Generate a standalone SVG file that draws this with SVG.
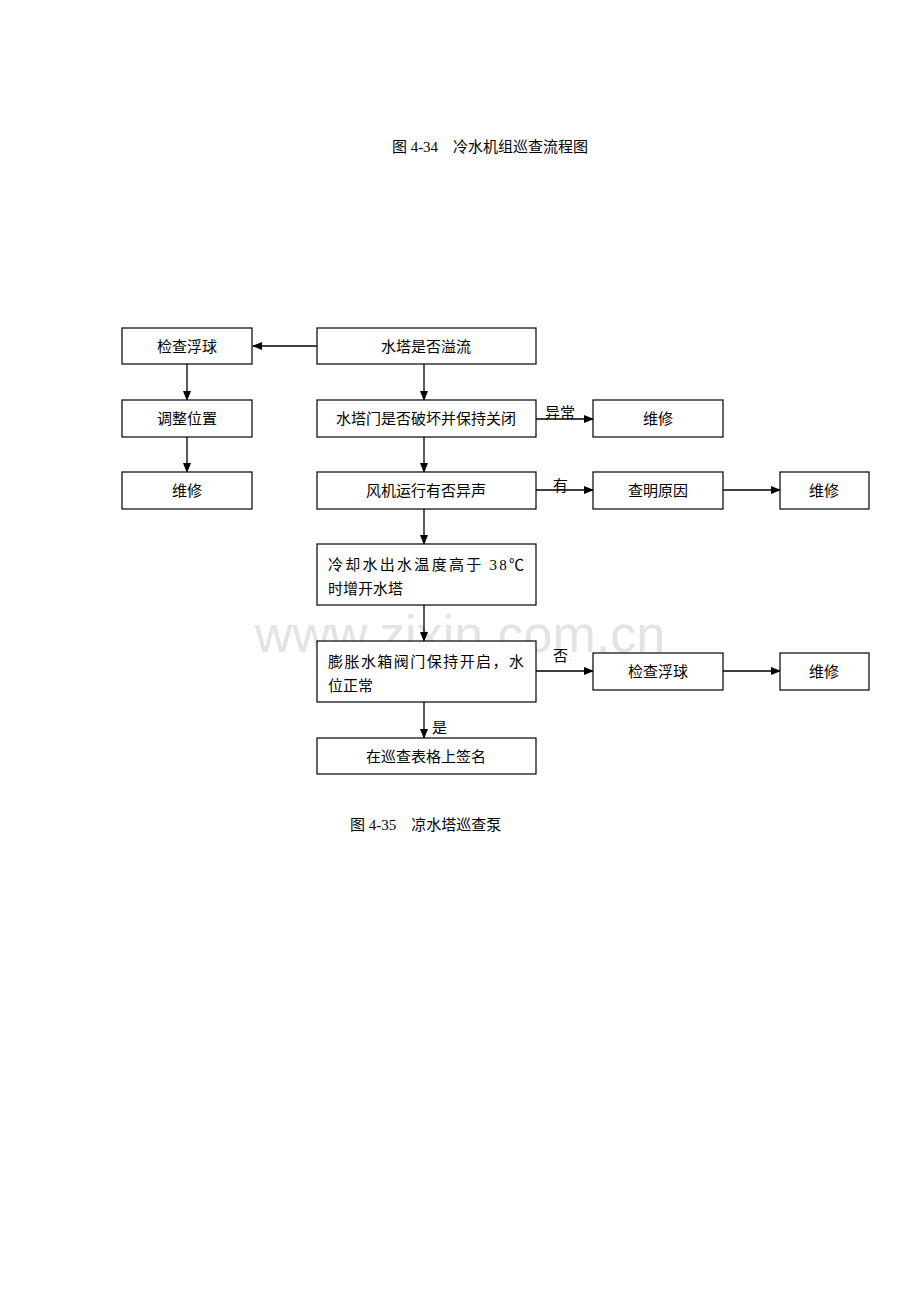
<svg xmlns="http://www.w3.org/2000/svg" width="920" height="1302" viewBox="0 0 920 1302">
<style>
text{font-family:"Liberation Serif","Noto Sans CJK SC",serif;font-size:15px;fill:#000}
.c{text-anchor:middle}
rect{fill:#fff;stroke:#000;stroke-width:1.2}
line{stroke:#000;stroke-width:1.3}
.wm{font-family:"Liberation Sans",sans-serif;font-size:52px;fill:#e3e3e3}
</style>
<defs><marker id="a" markerWidth="10" markerHeight="10" refX="9" refY="5" orient="auto" markerUnits="userSpaceOnUse"><path d="M0,1 L10,5 L0,9 Z" fill="#000"/></marker></defs>
<rect x="0" y="0" width="920" height="1302" style="fill:#fff;stroke:none"/>
<text x="490" y="152" class="c">图 4-34　冷水机组巡查流程图</text>
<text x="460" y="652" class="wm c">www.zixin.com.cn</text>
<g id="connectors">
<line x1="317" y1="346" x2="253" y2="346" marker-end="url(#a)"/>
<line x1="187" y1="364" x2="187" y2="400" marker-end="url(#a)"/>
<line x1="187" y1="437" x2="187" y2="472" marker-end="url(#a)"/>
<line x1="424" y1="364" x2="424" y2="400" marker-end="url(#a)"/>
<line x1="424" y1="437" x2="424" y2="472" marker-end="url(#a)"/>
<line x1="424" y1="509" x2="424" y2="544" marker-end="url(#a)"/>
<line x1="424" y1="605" x2="424" y2="641" marker-end="url(#a)"/>
<line x1="424" y1="702" x2="424" y2="738" marker-end="url(#a)"/>
<line x1="536" y1="419" x2="593" y2="419" marker-end="url(#a)"/>
<line x1="536" y1="490" x2="593" y2="490" marker-end="url(#a)"/>
<line x1="723" y1="490" x2="780" y2="490" marker-end="url(#a)"/>
<line x1="536" y1="671" x2="593" y2="671" marker-end="url(#a)"/>
<line x1="723" y1="671" x2="780" y2="671" marker-end="url(#a)"/>
<text x="545" y="418">异常</text>
<text x="553" y="491">有</text>
<text x="553" y="661">否</text>
<text x="432" y="733">是</text>
</g>
<g id="n1"><rect x="122" y="328" width="130" height="36"/><text x="187" y="352" class="c">检查浮球</text></g>
<g id="n2"><rect x="317" y="328" width="219" height="36"/><text x="426" y="352" class="c">水塔是否溢流</text></g>
<g id="n3"><rect x="122" y="400" width="130" height="37"/><text x="187" y="424" class="c">调整位置</text></g>
<g id="n4"><rect x="122" y="472" width="130" height="37"/><text x="187" y="496" class="c">维修</text></g>
<g id="n5"><rect x="317" y="400" width="219" height="37"/><text x="426" y="424" class="c">水塔门是否破坏并保持关闭</text></g>
<g id="n6"><rect x="593" y="400" width="130" height="37"/><text x="658" y="424" class="c">维修</text></g>
<g id="n7"><rect x="317" y="472" width="219" height="37"/><text x="426" y="496" class="c">风机运行有否异声</text></g>
<g id="n8"><rect x="593" y="472" width="130" height="37"/><text x="658" y="496" class="c">查明原因</text></g>
<g id="n9"><rect x="780" y="472" width="89" height="37"/><text x="824" y="496" class="c">维修</text></g>
<g id="n10"><rect x="317" y="544" width="219" height="61"/><text x="328" y="570" textLength="196" lengthAdjust="spacing">冷却水出水温度高于 38℃</text><text x="328" y="594">时增开水塔</text></g>
<g id="n11"><rect x="317" y="641" width="219" height="61"/><text x="328" y="667" textLength="196" lengthAdjust="spacing">膨胀水箱阀门保持开启，水</text><text x="328" y="691">位正常</text></g>
<g id="n12"><rect x="593" y="653" width="130" height="37"/><text x="658" y="677" class="c">检查浮球</text></g>
<g id="n13"><rect x="780" y="653" width="89" height="37"/><text x="824" y="677" class="c">维修</text></g>
<g id="n14"><rect x="317" y="738" width="219" height="36"/><text x="426" y="762" class="c">在巡查表格上签名</text></g>
<text x="350" y="830">图 4-35　凉水塔巡查泵</text>
</svg>
